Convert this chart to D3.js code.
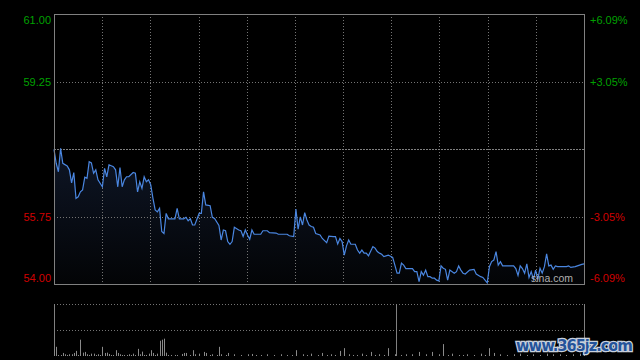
<!DOCTYPE html>
<html>
<head>
<meta charset="utf-8">
<script src="https://cdn.jsdelivr.net/npm/d3@7"></script>
<style>
  body { margin: 0; background: #000; }
  svg { display: block; }
</style>
</head>
<body>
<div id="chart"></div>
<script>
// intraday price chart, minute index 0..241

const width = 640;
const height = 360;
const margin = {left: 54, right: 56, top: 14};
const priceBottom = 284;
const volTop = 304;
const volBottom = 356;

// price levels / labels
const prevClose = 57.50;
const priceTicks = [61.00, 59.25, 55.75, 54.00];
const pctLabels = ["+6.09%", "+3.05%", "-3.05%", "-6.09%"];

// price line (minute, price)
const minutes = [0,1,2,3,4,6,7,8,9,10,11,12,13,14,15,16,17,18,19,20,22,23,24,25,27,28,29,30,31,32,33,34,36,37,38,39,40,41,42,43,44,45,46,47,48,49,50,51,52,55,56,57,59,60,61,62,63,64,66,67,68,69,71,72,73,75,76,77,78,79,80,81,82,84,85,86,87,88,89,90,91,94,95,97,98,101,102,106,107,109,110,111,112,113,114,115,116,117,118,119,121,122,124,125,127,128,129,130,131,132,133,134,135,137,138,139,140,141,142,143,145,146,147,148,149,150,152,154,155,156,157,158,159,160,163,164,165,166,167,168,169,170,171,172,173,174,175,176,177,178,179,180,182,183,184,185,186,187,189,191,192,194,195,196,197,198,199,200,201,202,203,204,209,210,211,212,213,214,215,216,217,218,219,220,221,222,223,224,225,226,227,228,229,233,234,235,237,238,240,241];
const prices = [57.49,57.13,56.91,57.52,57.13,57.06,56.96,56.62,56.89,56.22,56.26,56.39,56.44,56.77,56.74,57.17,57.14,56.87,56.96,56.70,56.52,57.00,56.78,57.09,57.04,56.96,56.52,57.02,56.52,56.70,56.78,56.78,56.89,56.87,56.39,56.65,56.48,56.78,56.65,56.70,56.57,56.22,55.92,55.87,55.96,55.36,55.31,55.83,55.69,55.69,55.96,55.69,55.69,55.73,55.64,55.69,55.53,55.53,55.83,55.83,56.39,56.05,56.03,55.73,55.70,55.52,55.14,55.40,55.38,55.10,55.03,55.10,55.47,55.40,55.38,55.23,55.40,55.27,55.16,55.40,55.29,55.29,55.38,55.38,55.33,55.32,55.29,55.29,55.25,55.23,55.94,55.42,55.74,55.53,55.85,55.66,55.53,55.49,55.47,55.31,55.27,55.18,55.07,55.24,55.23,55.23,55.04,55.18,55.10,54.75,54.99,55.14,55.03,55.03,54.88,54.80,54.88,54.80,54.80,54.73,54.97,54.93,54.84,54.80,54.77,54.71,54.75,54.69,54.49,54.28,54.28,54.54,54.49,54.40,54.40,54.32,54.32,54.06,54.32,54.23,54.36,54.19,54.19,54.15,54.15,54.10,54.08,54.47,54.41,54.38,54.10,54.36,54.28,54.32,54.47,54.36,54.28,54.26,54.36,54.38,54.26,54.19,54.17,54.10,54.03,54.45,54.58,54.62,54.84,54.49,54.58,54.47,54.47,54.40,54.22,54.47,54.40,54.28,54.52,54.17,54.32,54.12,54.36,54.12,54.41,54.28,54.45,54.78,54.47,54.49,54.38,54.47,54.45,54.45,54.47,54.43,54.45,54.47,54.51,54.52];

// volume bars (minute, lots)
const volMinutes = [0,1,2,3,4,5,6,7,8,9,10,11,12,13,14,15,16,17,18,19,20,21,22,23,24,25,26,27,28,29,30,31,32,33,34,35,36,37,38,39,40,41,42,43,44,45,46,47,48,49,50,51,52,53,55,56,58,59,60,62,63,64,66,68,69,71,72,74,75,76,78,79,82,85,88,90,92,94,97,100,103,106,108,110,113,115,117,120,122,124,126,128,130,132,134,136,138,140,142,144,146,148,150,152,155,158,160,163,166,169,172,175,177,179,181,184,186,188,191,194,196,198,200,203,206,209,212,215,218,221,224,227,230,233,236,239,241];
const volumes = [670,900,100,100,300,170,100,170,170,300,500,100,1600,330,400,170,100,230,230,100,170,100,900,300,330,200,100,100,570,300,170,100,100,100,170,100,230,100,700,170,430,100,100,230,570,300,100,230,1500,1600,1700,330,100,100,100,100,200,300,300,100,570,170,230,400,300,100,170,100,900,170,100,300,170,100,170,200,100,100,170,100,170,100,100,570,170,100,230,100,300,100,170,100,500,770,170,100,100,230,100,400,100,170,100,770,170,100,170,170,400,170,400,170,1170,100,230,100,100,170,100,230,100,770,300,170,100,170,230,100,170,100,230,170,170,100,170,230,170];
const volMax = 5100;

const svg = d3.select("#chart")
  .append("svg")
  .attr("width", width)
  .attr("height", height)
  .style("background", "#000");

const xScale = d3.scaleLinear()
  .domain([0, 241])
  .range([margin.left, width - margin.right]);

const yScale = d3.scaleLinear()
  .domain([54, 61])
  .range([priceBottom, margin.top]);

const yVol = d3.scaleLinear()
  .domain([0, volMax])
  .range([volBottom, volTop]);

// gradient under the line
const defs = svg.append("defs");
const grad = defs.append("linearGradient")
  .attr("id", "areaGrad")
  .attr("x1", 0).attr("y1", 0).attr("x2", 0).attr("y2", 1);
grad.append("stop").attr("offset", "0%").attr("stop-color", "#0e1626");
grad.append("stop").attr("offset", "100%").attr("stop-color", "#030406");

const pts = minutes.map((m, i) => [m, prices[i]]);

svg.append("path")
  .datum(pts)
  .attr("fill", "url(#areaGrad)")
  .attr("d", d3.area()
    .x(d => xScale(d[0]))
    .y0(priceBottom)
    .y1(d => yScale(d[1])));

// vertical grid lines (11 divisions)
const vGrid = d3.range(1, 11).map(i => i * 241 / 11);
svg.append("g")
  .selectAll("line")
  .data(vGrid)
  .join("line")
    .attr("x1", d => Math.round(xScale(d)) + 0.5)
    .attr("x2", d => Math.round(xScale(d)) + 0.5)
    .attr("y1", margin.top)
    .attr("y2", priceBottom)
    .attr("stroke", "#747474")
    .attr("stroke-dasharray", "1,2");

// horizontal grid lines
svg.append("g")
  .selectAll("line")
  .data([59.25, 55.75])
  .join("line")
    .attr("x1", margin.left)
    .attr("x2", width - margin.right)
    .attr("y1", d => Math.round(yScale(d)) + 0.5)
    .attr("y2", d => Math.round(yScale(d)) + 0.5)
    .attr("stroke", "#747474")
    .attr("stroke-dasharray", "1,2");

// previous close
svg.append("line")
  .attr("x1", margin.left)
  .attr("x2", width - margin.right)
  .attr("y1", Math.round(yScale(prevClose)) + 0.5)
  .attr("y2", Math.round(yScale(prevClose)) + 0.5)
  .attr("stroke", "#808080")
  .attr("stroke-dasharray", "2,1");

// price line
svg.append("path")
  .datum(pts)
  .attr("fill", "none")
  .attr("stroke", "#4a86e0")
  .attr("stroke-width", 1.2)
  .attr("d", d3.line()
    .x(d => xScale(d[0]))
    .y(d => yScale(d[1])));

// frame
svg.append("rect")
  .attr("x", margin.left + 0.5)
  .attr("y", margin.top + 0.5)
  .attr("width", width - margin.right - margin.left)
  .attr("height", priceBottom - margin.top)
  .attr("fill", "none")
  .attr("stroke", "#808080");

// labels
const labelY = [20, 82, 217, 278];
svg.append("g")
  .selectAll("text")
  .data(priceTicks)
  .join("text")
    .attr("x", margin.left - 3)
    .attr("y", (d, i) => labelY[i])
    .attr("dy", "0.35em")
    .attr("text-anchor", "end")
    .attr("font-family", "Liberation Sans, Arial, sans-serif")
    .attr("font-size", 11)
    .attr("fill", d => d > prevClose ? "#00a000" : "#d00000")
    .text(d => d.toFixed(2));

svg.append("g")
  .selectAll("text")
  .data(pctLabels)
  .join("text")
    .attr("x", width - margin.right + 6)
    .attr("y", (d, i) => labelY[i])
    .attr("dy", "0.35em")
    .attr("font-family", "Liberation Sans, Arial, sans-serif")
    .attr("font-size", 11)
    .attr("fill", d => d[0] == "+" ? "#00a000" : "#d00000")
    .text(d => d);

svg.append("text")
  .attr("x", 531)
  .attr("y", 282)
  .attr("font-family", "Liberation Sans, Arial, sans-serif")
  .attr("font-size", 10.5)
  .attr("fill", "#b0b0b0")
  .text("sina.com");

// volume panel
svg.append("g")
  .selectAll("line")
  .data([volTop, 330])
  .join("line")
    .attr("x1", margin.left)
    .attr("x2", width - margin.right)
    .attr("y1", d => d + 0.5)
    .attr("y2", d => d + 0.5)
    .attr("stroke", "#747474")
    .attr("stroke-dasharray", "1,2");

svg.append("g")
  .selectAll("line")
  .data([margin.left + 0.5, 396.5, width - margin.right + 0.5])
  .join("line")
    .attr("x1", d => d)
    .attr("x2", d => d)
    .attr("y1", volTop)
    .attr("y2", volBottom)
    .attr("stroke", "#808080");

svg.append("g")
  .selectAll("rect")
  .data(volMinutes)
  .join("rect")
    .attr("x", d => Math.round(xScale(d)))
    .attr("y", (d, i) => yVol(volumes[i]))
    .attr("width", 1)
    .attr("height", (d, i) => volBottom - yVol(volumes[i]))
    .attr("fill", "#8a8a8a");

// watermark
svg.append("text")
  .attr("x", 516)
  .attr("y", 351)
  .attr("font-family", "DejaVu Sans, sans-serif")
  .attr("font-weight", "bold")
  .attr("font-size", 15)
  .attr("fill", "#24539a")
  .attr("stroke", "#c8d0dc")
  .attr("stroke-width", 2.5)
  .attr("paint-order", "stroke")
  .attr("textLength", 117)
  .text("www.365jz.com");
</script>
</body>
</html>
